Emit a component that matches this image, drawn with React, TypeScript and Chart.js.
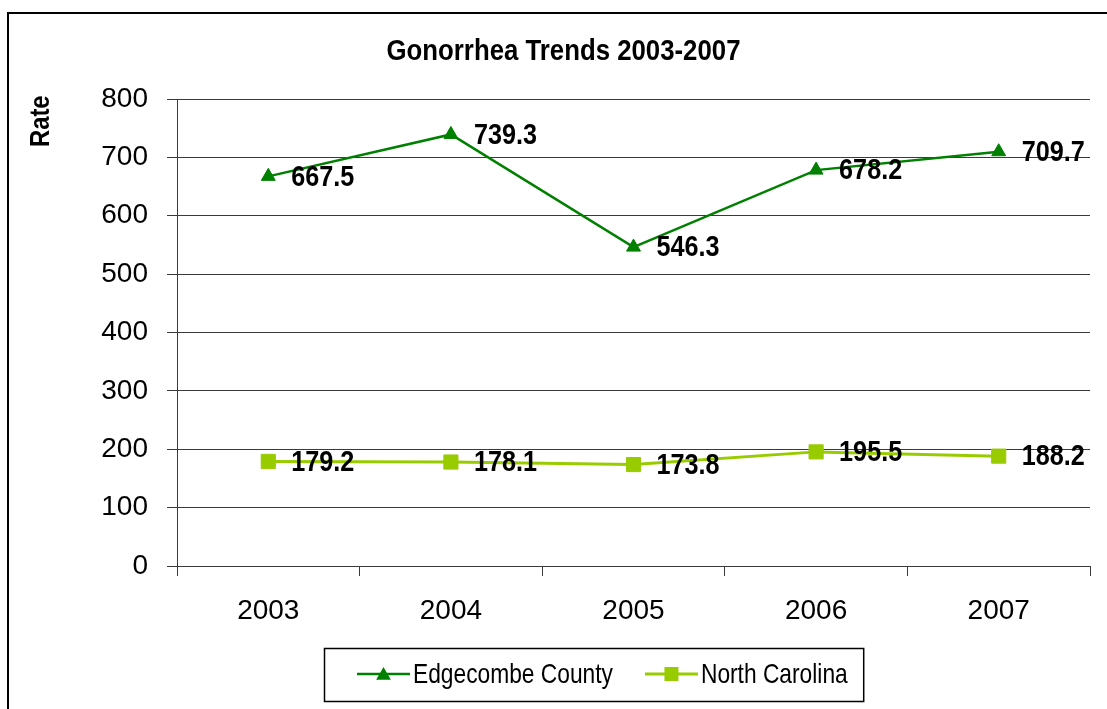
import React, { useEffect, useRef } from 'react';
import { Chart, registerables } from 'chart.js';

Chart.register(...registerables);

const chartTitle = 'Gonorrhea Trends 2003-2007';
const yAxisTitle = 'Rate';
const categories = ['2003', '2004', '2005', '2006', '2007'];
const seriesNames = ['Edgecombe County', 'North Carolina'];
const edgecombeRates = [667.5, 739.3, 546.3, 678.2, 709.7];
const northCarolinaRates = [179.2, 178.1, 173.8, 195.5, 188.2];
const yMin = 0;
const yMax = 800;
const yStep = 100;

const SANS = "'Liberation Sans', Arial, sans-serif";
const DARK_GREEN = '#008000';
const LIGHT_GREEN = '#99CC00';
const GRID = '#3a3a3a';

// draw text horizontally condensed (the original uses a narrow face)
function narrowText(
  ctx: CanvasRenderingContext2D,
  text: string,
  x: number,
  y: number,
  sx: number,
  align: CanvasTextAlign,
  baseline: CanvasTextBaseline,
  rotation = 0
) {
  ctx.save();
  ctx.translate(x, y);
  if (rotation) ctx.rotate(rotation);
  ctx.scale(sx, 1);
  ctx.textAlign = align;
  ctx.textBaseline = baseline;
  ctx.fillText(text, 0, 0);
  ctx.restore();
  return ctx.measureText(text).width * sx;
}

function drawTriangle(ctx: CanvasRenderingContext2D, x: number, y: number, r: number, color: string) {
  ctx.beginPath();
  ctx.moveTo(x, y - r);
  ctx.lineTo(x + Math.sin((2 * Math.PI) / 3) * r, y + r / 2);
  ctx.lineTo(x - Math.sin((2 * Math.PI) / 3) * r, y + r / 2);
  ctx.closePath();
  ctx.fillStyle = color;
  ctx.fill();
}

const decoPlugin = {
  id: 'deco',
  afterDraw(chart: any) {
    const ctx: CanvasRenderingContext2D = chart.ctx;
    ctx.save();

    // outer frame
    ctx.strokeStyle = '#000';
    ctx.lineWidth = 2;
    ctx.strokeRect(8, 13, 1300, 900);

    ctx.fillStyle = '#000';

    // title
    ctx.font = `bold 29px ${SANS}`;
    narrowText(ctx, chartTitle, 563.5, 60, 0.889, 'center', 'alphabetic');

    // y axis title
    ctx.font = `bold 28px ${SANS}`;
    narrowText(ctx, yAxisTitle, 41, 147, 0.85, 'left', 'middle', -Math.PI / 2);

    // data labels
    ctx.font = `bold 30px ${SANS}`;
    chart.data.datasets.forEach((ds: any, i: number) => {
      const meta = chart.getDatasetMeta(i);
      meta.data.forEach((pt: any, j: number) => {
        ctx.fillStyle = '#000';
        narrowText(ctx, Number(ds.data[j]).toFixed(1), pt.x + 23, pt.y + 1, 0.84, 'left', 'middle');
      });
    });

    // legend
    const lineY = 674;
    const textBaseY = 683;
    const sampleLen = 53;
    ctx.font = `28px ${SANS}`;
    let x = 357;
    const startX = x;
    chart.data.datasets.forEach((ds: any, i: number) => {
      ctx.strokeStyle = ds.borderColor;
      ctx.lineWidth = ds.borderWidth;
      ctx.beginPath();
      ctx.moveTo(x, lineY);
      ctx.lineTo(x + sampleLen, lineY);
      ctx.stroke();
      const cx = x + sampleLen / 2;
      if (ds.pointStyle === 'triangle') {
        drawTriangle(ctx, cx, lineY + 1.5, 8.5, ds.pointBackgroundColor);
      } else {
        ctx.fillStyle = ds.pointBackgroundColor;
        ctx.fillRect(cx - 7, lineY - 7, 14, 14);
      }
      ctx.fillStyle = '#000';
      const w = narrowText(ctx, ds.label as string, x + sampleLen + 3, textBaseY, 0.813, 'left', 'alphabetic');
      x = x + sampleLen + 3 + w + (i < chart.data.datasets.length - 1 ? 32 : 0);
    });
    ctx.strokeStyle = '#000';
    ctx.lineWidth = 1.5;
    ctx.strokeRect(startX - 32.5, 648.5, x - startX + 32.5 + 16, 53);

    ctx.restore();
  },
};

export default function App() {
  const canvasRef = useRef<HTMLCanvasElement | null>(null);

  useEffect(() => {
    const canvas = canvasRef.current;
    if (!canvas) return;
    const chart = new Chart(canvas, {
      type: 'line',
      data: {
        labels: categories,
        datasets: [
          {
            label: seriesNames[0],
            data: edgecombeRates,
            borderColor: DARK_GREEN,
            backgroundColor: DARK_GREEN,
            borderWidth: 2.5,
            pointStyle: 'triangle',
            pointRadius: 8,
            pointBackgroundColor: DARK_GREEN,
            pointBorderColor: DARK_GREEN,
            pointBorderWidth: 1,
            tension: 0,
          },
          {
            label: seriesNames[1],
            data: northCarolinaRates,
            borderColor: LIGHT_GREEN,
            backgroundColor: LIGHT_GREEN,
            borderWidth: 3,
            pointStyle: 'rect',
            pointRadius: 10,
            pointBackgroundColor: LIGHT_GREEN,
            pointBorderColor: LIGHT_GREEN,
            pointBorderWidth: 1,
            tension: 0,
          },
        ],
      },
      options: {
        responsive: false,
        animation: false,
        events: [],
        layout: { padding: { left: 8, right: 17, top: 99, bottom: 83 } },
        plugins: {
          legend: { display: false },
          title: { display: false },
          tooltip: { enabled: false },
        },
        scales: {
          x: {
            type: 'category',
            offset: true,
            grid: {
              display: true,
              drawOnChartArea: false,
              drawTicks: true,
              tickLength: 10,
              offset: true,
              color: GRID,
              lineWidth: 1,
            },
            border: { display: true, color: GRID, width: 1 },
            ticks: {
              color: '#000',
              font: { family: SANS, size: 28 },
              padding: 18,
              maxRotation: 0,
            },
            afterFit: (scale: any) => {
              scale.height = 60;
            },
          },
          y: {
            min: yMin,
            max: yMax,
            grid: {
              display: true,
              drawTicks: true,
              tickLength: 10,
              color: GRID,
              lineWidth: 1,
            },
            border: { display: true, color: GRID, width: 1 },
            ticks: {
              stepSize: yStep,
              color: '#000',
              font: { family: SANS, size: 28 },
              padding: 19,
            },
            afterFit: (scale: any) => {
              scale.width = 169;
            },
          },
        },
      },
      plugins: [decoPlugin],
    });
    return () => {
      chart.destroy();
    };
  }, []);

  return (
    <div style={{ position: 'fixed', left: 0, top: 0, width: 1107, height: 709, background: '#fff' }}>
      <canvas ref={canvasRef} width={1107} height={709} style={{ width: 1107, height: 709, display: 'block' }} />
    </div>
  );
}
